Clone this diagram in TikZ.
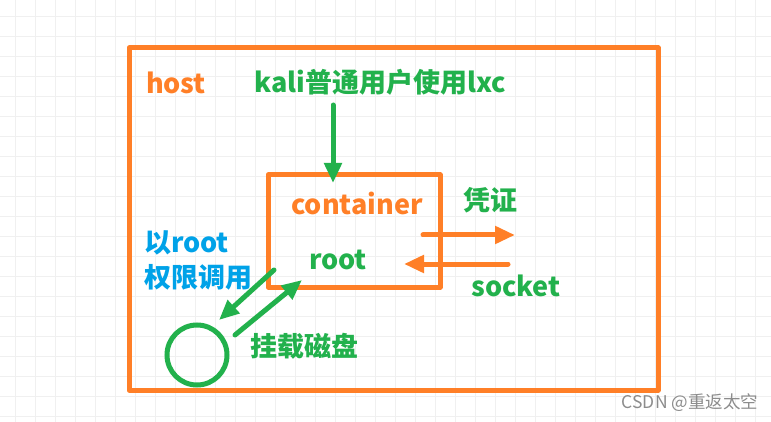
\documentclass[tikz,border=0pt]{standalone}
\usepackage{fontspec}
\setmainfont{Noto Sans CJK SC}
\usepackage{tikz}
\usetikzlibrary{arrows.meta}

\definecolor{hostorange}{RGB}{255,127,39}
\definecolor{linkgreen}{RGB}{34,177,76}
\definecolor{rootblue}{RGB}{0,162,232}

\tikzset{
  frame/.style={draw=hostorange, line width=5pt, line join=round},
  label/.style={font=\fontsize{27}{30}\selectfont\bfseries, inner sep=0pt},
  flow/.style={line width=5pt, line cap=round, -{Triangle[length=20pt,width=17pt]}},
}

\begin{document}
\begin{tikzpicture}[x=1pt,y=-1pt]
	\useasboundingbox (0,0) rectangle (771,422);
	\fill[white] (0,0) rectangle (771,422);
	% faint background grid
	\foreach \gx in {15,35,...,771}
		\draw[black!6, line width=0.8pt] (\gx,0) -- (\gx,422);
	\foreach \gy in {16,36,...,422}
		\draw[black!6, line width=0.8pt] (0,\gy) -- (771,\gy);
	
	\draw[frame] (129,48) rectangle (658,390);
	\draw[frame] (268,175) rectangle (440,287);
	
	\node[label, text=hostorange] (host) at (176,83) {host};
	\node[label, text=linkgreen] (user) at (380,82) {kali普通用户使用lxc};
	\node[label, text=hostorange] (container) at (357,203) {container};
	\node[label, text=linkgreen] (root) at (338,260) {root};
	\node[label, text=linkgreen] (cred) at (490,200) {凭证};
	\node[label, text=linkgreen] (socket) at (516,286) {socket};
	\node[label, text=rootblue, align=left, anchor=west] (priv) at (144,260) {以root\\[5pt]权限调用};
	\node[label, text=linkgreen] (mount) at (304,346) {挂载磁盘};
	\node[draw=linkgreen, line width=5pt, circle, minimum size=60pt, inner sep=0pt] (disk) at (197,355) {};
	\node[text=black!45, font=\fontsize{17.5}{19}\selectfont, inner sep=0pt] (mark) at (690,403) {CSDN @重返太空};
	
	\coordinate (userin) at (333,183);
	\coordinate (credout) at (423,235);
	\coordinate (credend) at (515,235);
	\coordinate (sockin) at (508,264);
	\coordinate (sockend) at (404,264);
	\coordinate (callout) at (274,270);
	\coordinate (callend) at (219,320);
	\coordinate (mountout) at (235,335);
	\coordinate (mountend) at (302,280);
	
	\draw[flow, draw=linkgreen, fill=linkgreen] (333,105) -- (userin);
	\draw[flow, draw=hostorange, fill=hostorange] (credout) -- (credend);
	\draw[flow, draw=hostorange, fill=hostorange] (sockin) -- (sockend);
	\draw[flow, draw=linkgreen, fill=linkgreen] (callout) -- (callend);
	\draw[flow, draw=linkgreen, fill=linkgreen] (mountout) -- (mountend);
\end{tikzpicture}
\end{document}
